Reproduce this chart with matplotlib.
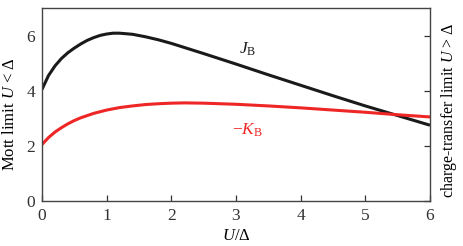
import matplotlib
matplotlib.use("Agg")
import matplotlib.pyplot as plt

plt.rcParams['font.family'] = ['Liberation Serif', 'DejaVu Serif']
plt.rcParams['mathtext.fontset'] = 'custom'
plt.rcParams['mathtext.rm'] = 'Liberation Serif'
plt.rcParams['mathtext.it'] = 'Liberation Serif:italic'

u_j = [0, 0.1, 0.2, 0.3, 0.4, 0.5, 0.6, 0.7, 0.8, 0.9, 1.0, 1.1, 1.2, 1.4, 1.6, 1.8,
       2.0, 2.5, 3.0, 3.5, 4.0, 4.5, 5.0, 5.5, 6.0]
j_b = [4.05, 4.55, 4.9, 5.17, 5.38, 5.55, 5.7, 5.83, 5.93, 6.01, 6.06, 6.09, 6.09, 6.05,
       5.96, 5.85, 5.72, 5.35, 4.97, 4.58, 4.2, 3.82, 3.45, 3.1, 2.75]

u_k = [0, 0.1, 0.2, 0.3, 0.4, 0.5, 0.6, 0.8, 1.0, 1.2, 1.4, 1.6, 1.8, 2.0, 2.2, 2.5,
       3.0, 3.5, 4.0, 4.5, 5.0, 5.5, 6.0]
k_b = [2.05, 2.3, 2.5, 2.66, 2.8, 2.92, 3.02, 3.18, 3.3, 3.39, 3.45, 3.5, 3.53, 3.55,
       3.56, 3.55, 3.51, 3.45, 3.38, 3.3, 3.22, 3.13, 3.05]

x_ticks = [0, 1, 2, 3, 4, 5, 6]
y_ticks = [0, 2, 4, 6]

fig = plt.figure(figsize=(4.63, 2.46), dpi=100)
ax = fig.add_axes([0.0907, 0.183, 0.8380, 0.784])
ax.plot(u_j, j_b, color='#1a1a1a', lw=2.2, solid_capstyle='butt')
ax.plot(u_k, k_b, color='#ee2626', lw=2.2, solid_capstyle='butt')

ax.set_xlim(0, 6)
ax.set_ylim(0, 7)
ax.set_xticks(x_ticks)
ax.set_yticks(y_ticks)
ax.tick_params(axis='x', direction='in', top=False, bottom=True, labelsize=12.5,
               colors='#333333', length=4, width=0.9, pad=5)
ax.tick_params(axis='y', direction='in', left=False, right=True, labelsize=12.5,
               colors='#333333', length=4, width=0.9, pad=5)
for sp in ax.spines.values():
    sp.set_color('#444444')
    sp.set_linewidth(1.0)

ax.set_xlabel(r'$U/\Delta$', fontsize=12)
ax.xaxis.set_label_coords(0.5, -0.14)
ax.set_ylabel(r'Mott limit $U$ < $\Delta$', fontsize=12)
ax.yaxis.set_label_coords(-0.062, 0.45)
fig.text(0.970, 0.55, r'charge-transfer limit $U$ > $\Delta$', rotation=90,
         fontsize=11.5, ha='center', va='center')

ax.text(3.18, 5.5, r'$J_{\mathrm{B}}$', fontsize=12.5, color='#1a1a1a',
        ha='center', va='center')
ax.text(3.17, 2.55, r'$-K_{\mathrm{B}}$', fontsize=12.5, color='#ee2626',
        ha='center', va='center')

fig.savefig('out.png', dpi=100)
